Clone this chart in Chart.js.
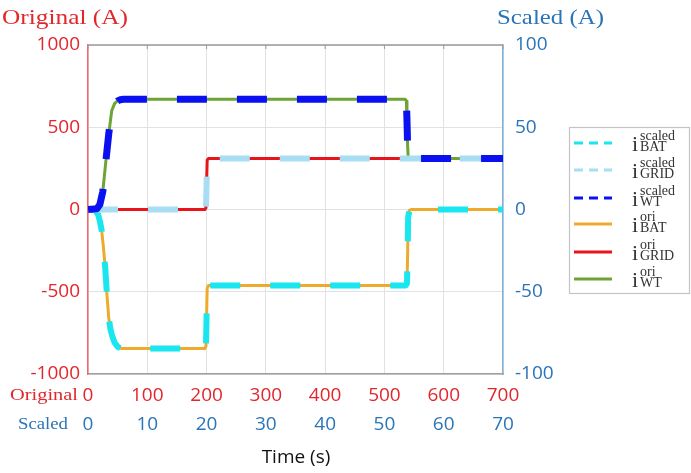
<!DOCTYPE html>
<html>
<head>
<meta charset="utf-8">
<script src="https://cdn.jsdelivr.net/npm/chart.js@4/dist/chart.umd.min.js"></script>
<style>
html,body{margin:0;padding:0;background:#fff;}
#wrap{position:relative;width:691px;height:473px;}
</style>
</head>
<body>
<div id="wrap"><canvas id="c" width="691" height="473"></canvas></div>
<script>
// ---- Original series (time in s, current in A) ----
const wtOriTime   = [0, 15, 20, 25, 30, 35, 40, 45, 50, 54, 60, 535, 537, 538, 539, 540, 542, 700];
const wtOriVal    = [0, 5, 30, 110, 290, 460, 600, 645, 660, 667, 670, 670, 660, 550, 400, 320, 310, 310];
const batOriTime  = [0, 12, 17, 20, 23, 26, 29, 32, 35, 38, 41, 45, 50, 57, 197, 199, 200, 201, 203, 536, 538, 539, 540, 542, 545, 700];
const batOriVal   = [0, -5, -30, -70, -125, -230, -350, -520, -660, -730, -770, -810, -835, -845, -845, -830, -650, -480, -462, -462, -450, -300, -50, -5, 0, 0];
const gridOriTime = [0, 197, 199, 200, 201, 203, 700];
const gridOriVal  = [0, 0, 10, 150, 300, 310, 310];

// ---- Scaled series (time in 10 s, current in 10 A) ----
const wtScTime   = [0, 1.5, 2.0, 2.5, 3.0, 3.5, 4.0, 4.5, 5.0, 5.4, 6.0, 53.5, 53.7, 53.8, 53.9, 54.0, 54.2, 70];
const wtScVal    = [0, 0.5, 3.0, 11.0, 29.0, 46.0, 60.0, 64.5, 66.0, 66.7, 67.0, 67.0, 66.0, 55.0, 40.0, 32.0, 31.0, 31.0];
const batScTime  = [0, 1.2, 1.7, 2.0, 2.3, 2.6, 2.9, 3.2, 3.5, 3.8, 4.1, 4.5, 5.0, 5.7, 19.7, 19.9, 20.0, 20.1, 20.3, 53.6, 53.8, 53.9, 54.0, 54.2, 54.5, 70];
const batScVal   = [0, -0.5, -3.0, -7.0, -12.5, -23.0, -35.0, -52.0, -66.0, -73.0, -77.0, -81.0, -83.5, -84.5, -84.5, -83.0, -65.0, -48.0, -46.2, -46.2, -45.0, -30.0, -5.0, -0.5, 0, 0];
const gridScTime = [0, 19.7, 19.9, 20.0, 20.1, 20.3, 70];
const gridScVal  = [0, 0, 1.0, 15.0, 30.0, 31.0, 31.0];

// ---- Tick labels ----
const origXTicks = [0, 100, 200, 300, 400, 500, 600, 700];
const scaledXTicks = [0, 10, 20, 30, 40, 50, 60, 70];
const origYTicks = [-1000, -500, 0, 500, 1000];
const scaledYTicks = [-100, -50, 0, 50, 100];

const legendItems = [
  {sup:'scaled', sub:'BAT',  color:'#19e6ef', dash:true},
  {sup:'scaled', sub:'GRID', color:'#a8def4', dash:true},
  {sup:'scaled', sub:'WT',   color:'#0a10f0', dash:true},
  {sup:'ori',    sub:'BAT',  color:'#eeaa2c', dash:false},
  {sup:'ori',    sub:'GRID', color:'#e8141c', dash:false},
  {sup:'ori',    sub:'WT',   color:'#6ea436', dash:false}
];

function pts(t, v){ return t.map((x,i)=>({x:x, y:v[i]})); }

const RED = '#e3262b';
const BLUE = '#2a74b8';
const SANS = '"Open Sans", "Liberation Sans", sans-serif';
const SERIF = '"Liberation Serif", "DejaVu Serif", serif';

function fitText(ctx, text, x, y, w){
  const m = ctx.measureText(text).width;
  const s = w / m;
  ctx.save();
  ctx.translate(x, y);
  ctx.scale(s, 1);
  ctx.textAlign = 'left';
  ctx.fillText(text, 0, 0);
  ctx.restore();
}

const decor = {
  id: 'decor',
  afterDraw(chart){
    const ctx = chart.ctx;
    const a = chart.chartArea;
    ctx.save();
    // top border
    ctx.strokeStyle = '#9a9a9a';
    ctx.lineWidth = 1.5;
    ctx.beginPath(); ctx.moveTo(a.left, a.top); ctx.lineTo(a.right, a.top); ctx.stroke();
    const xs = chart.scales.x;
    ctx.lineWidth = 1;
    origXTicks.forEach(t=>{
      const px = xs.getPixelForValue(t);
      ctx.beginPath(); ctx.moveTo(px, a.top); ctx.lineTo(px, a.top+4); ctx.stroke();
    });
    // titles
    ctx.textBaseline = 'middle';
    ctx.fillStyle = RED;
    ctx.font = '21px ' + SERIF;
    fitText(ctx, 'Original (A)', 2, 18, 126);
    ctx.fillStyle = BLUE;
    fitText(ctx, 'Scaled (A)', 497, 18, 107);
    ctx.font = '17px ' + SERIF;
    ctx.fillStyle = RED;
    fitText(ctx, 'Original', 10, 396, 68);
    ctx.fillStyle = BLUE;
    fitText(ctx, 'Scaled', 18, 425, 50);
    ctx.fillStyle = '#111';
    ctx.font = '19px ' + SANS;
    ctx.textAlign = 'center';
    ctx.fillText('Time (s)', 296, 458);
    // legend
    const L = {x:569, y:127, w:121, h:167};
    ctx.fillStyle = '#fff';
    ctx.fillRect(L.x, L.y, L.w, L.h);
    ctx.strokeStyle = '#c4c4c4';
    ctx.lineWidth = 1.2;
    ctx.strokeRect(L.x+0.5, L.y+0.5, L.w-1, L.h-1);
    const rows = [143, 170, 198, 224, 252, 279];
    legendItems.forEach((it, i)=>{
      const ry = rows[i];
      ctx.strokeStyle = it.color;
      ctx.lineWidth = 3;
      ctx.setLineDash(it.dash ? [9, 6] : []);
      ctx.beginPath(); ctx.moveTo(574, ry); ctx.lineTo(612, ry); ctx.stroke();
      ctx.setLineDash([]);
      ctx.fillStyle = '#333';
      ctx.textAlign = 'left';
      ctx.textBaseline = 'alphabetic';
      ctx.font = '22px ' + SERIF;
      ctx.fillText('i', 632, ry + 8);
      ctx.font = '14px ' + SERIF;
      ctx.fillText(it.sup, 640, ry - 3);
      ctx.fillText(it.sub, 640, ry + 8);
    });
    ctx.restore();
  }
};

const ds = (label, t, v, color, width, dash, xa, ya, order) => ({
  label, data: pts(t, v), borderColor: color, backgroundColor: color,
  borderWidth: width, borderDash: dash, pointRadius: 0, tension: 0,
  fill: false, xAxisID: xa, yAxisID: ya, order, borderCapStyle: 'butt', borderJoinStyle: 'round'
});

const plain = v => String(v);

new Chart(document.getElementById('c'), {
  type: 'line',
  data: {
    datasets: [
      ds('i_BAT^ori',  batOriTime,  batOriVal,  '#eeaa2c', 3, [], 'x', 'y', 6),
      ds('i_GRID^ori', gridOriTime, gridOriVal, '#e8141c', 3, [], 'x', 'y', 5),
      ds('i_WT^ori',   wtOriTime,   wtOriVal,   '#6ea436', 3, [], 'x', 'y', 4),
      ds('i_BAT^scaled',  batScTime,  batScVal,  '#19e6ef', 6, [30, 30], 'x2', 'y2', 3),
      ds('i_GRID^scaled', gridScTime, gridScVal, '#a8def4', 6, [30, 30], 'x2', 'y2', 2),
      ds('i_WT^scaled',   wtScTime,   wtScVal,   '#0a10f0', 7, [30, 30], 'x2', 'y2', 1)
    ]
  },
  options: {
    responsive: false,
    animation: false,
    layout: {padding: {top: 45, left: 0, right: 0, bottom: 0}},
    plugins: {legend: {display: false}, tooltip: {enabled: false}},
    scales: {
      x: {
        type: 'linear', position: 'bottom', min: 0, max: 700, weight: 0,
        afterBuildTicks: s => { s.ticks = origXTicks.map(v => ({value: v})); },
        ticks: {color: RED, font: {size: 19, family: SANS}, padding: 10, maxRotation: 0, autoSkip: false, callback: plain},
        grid: {color: '#e2e2e2', lineWidth: 1, drawTicks: false},
        border: {color: '#a0a0a0', width: 1.5},
        afterFit: s => { s.height = 29; }
      },
      x2: {
        type: 'linear', position: 'bottom', min: 0, max: 70, weight: 1,
        afterBuildTicks: s => { s.ticks = scaledXTicks.map(v => ({value: v})); },
        ticks: {color: BLUE, font: {size: 19, family: SANS}, padding: 10, maxRotation: 0, autoSkip: false, callback: plain},
        grid: {display: false, drawTicks: false},
        border: {display: false},
        afterFit: s => { s.height = 70; }
      },
      y: {
        type: 'linear', position: 'left', min: -1000, max: 1000,
        afterBuildTicks: s => { s.ticks = origYTicks.map(v => ({value: v})); },
        ticks: {color: RED, font: {size: 19, family: SANS}, padding: 8, callback: plain},
        grid: {color: '#e2e2e2', lineWidth: 1, drawTicks: false},
        border: {color: '#f06a6a', width: 1.5},
        afterFit: s => { s.width = 88; }
      },
      y2: {
        type: 'linear', position: 'right', min: -100, max: 100,
        afterBuildTicks: s => { s.ticks = scaledYTicks.map(v => ({value: v})); },
        ticks: {color: BLUE, font: {size: 19, family: SANS}, padding: 12, callback: plain},
        grid: {display: false, drawTicks: false},
        border: {color: '#7fb0dc', width: 1.5},
        afterFit: s => { s.width = 188; }
      }
    }
  },
  plugins: [decor]
});
</script>
</body>
</html>
